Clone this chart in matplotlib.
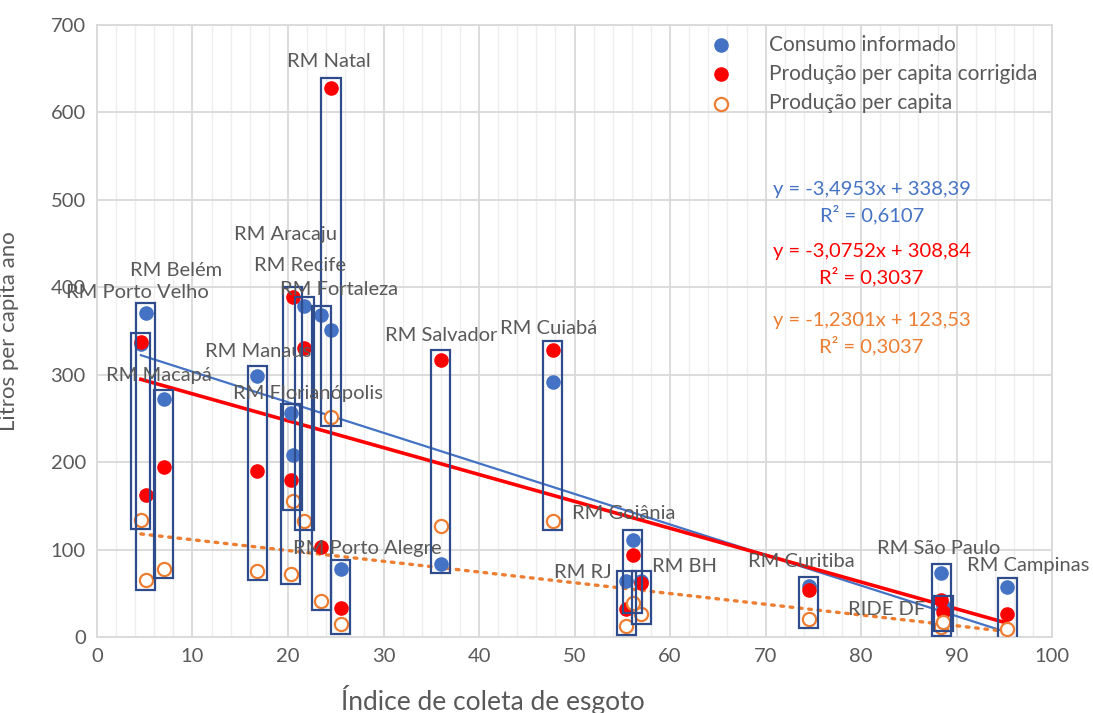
import numpy as np
import matplotlib
matplotlib.use("Agg")
import matplotlib.pyplot as plt
from matplotlib.patches import Rectangle
from matplotlib.ticker import MultipleLocator

plt.rcParams['font.family'] = ['Lato', 'DejaVu Sans']

# regiões metropolitanas: índice de coleta (x) e litros per capita ano (y)
cidades = ["RM Porto Velho", "RM Belém", "RM Macapá", "RM Manaus", "RM Aracaju",
           "RM Florianópolis", "RM Recife", "RM Fortaleza", "RM Natal", "RM Porto Alegre",
           "RM Salvador", "RM Cuiabá", "RM Goiânia", "RM RJ", "RM BH",
           "RM Curitiba", "RM São Paulo", "RIDE DF", "RM Campinas"]
coleta = [4.6, 5.1, 7.0, 16.8, 20.5, 20.3, 21.7, 23.5, 24.5, 25.5,
          36.0, 47.7, 56.1, 55.4, 57.0, 74.5, 88.4, 88.6, 95.3]
consumo = [335, 371, 272, 299, 208, 256, 378, 368, 351, 77.5,
           84, 292, 111, 64, 64, 58, 73, 36, 57]
prod_corrigida = [337, 162, 194, 190, 389, 179, 330, 103, 628, 33,
                  317, 328, 94, 31.6, 62, 54, 42, 29, 26]
prod = [134, 65, 78, 76, 156, 72, 133, 41.5, 252, 14.5,
        127, 133, 38.5, 13, 26, 21, 12, 17.5, 9]

# linhas de tendência (coeficientes a, b de y = a*x + b)
tend_consumo = (-3.4953, 338.39, "y = -3,4953x + 338,39", "R² = 0,6107")
tend_corrigida = (-3.0752, 308.84, "y = -3,0752x + 308,84", "R² = 0,3037")
tend_prod = (-1.2301, 123.53, "y = -1,2301x + 123,53", "R² = 0,3037")

# posição dos rótulos das cidades
rotulo_xy = [(4.2, 394), (8.3, 419), (6.5, 299), (16.9, 326), (19.7, 460),
             (22.1, 279), (21.3, 425), (25.3, 398), (24.3, 658), (28.3, 101),
             (36.0, 345), (47.3, 353), (55.1, 141), (50.9, 74), (61.5, 81),
             (73.7, 86), (88.1, 101), (82.7, 32), (97.5, 82)]

AZUL = "#4472C4"
VERMELHO = "#FF0000"
LARANJA = "#ED7D31"
CINZA = "#595959"
MOLDURA = "#2E4C8C"

fig = plt.figure(figsize=(10.93, 7.13), dpi=100)
ax = fig.add_axes([0.0887, 0.1066, 0.874, 0.8584])

ax.set_xlim(0, 100)
ax.set_ylim(0, 700)
ax.xaxis.set_major_locator(MultipleLocator(10))
ax.xaxis.set_minor_locator(MultipleLocator(2))
ax.yaxis.set_major_locator(MultipleLocator(100))
ax.grid(which="major", color="#D9D9D9", lw=1.3)
ax.grid(which="minor", axis="x", color="#EEEEEE", lw=1.0)
ax.set_axisbelow(True)
for s in ax.spines.values():
    s.set_color("#D9D9D9")
    s.set_linewidth(1.3)
ax.tick_params(which="both", length=0, labelsize=14.5, labelcolor=CINZA, pad=8)

ms = 90
h1 = ax.scatter(coleta, consumo, s=ms, color=AZUL, zorder=3, label="Consumo informado")
h2 = ax.scatter(coleta, prod_corrigida, s=ms, color=VERMELHO, zorder=4,
                label="Produção per capita corrigida")
h3 = ax.scatter(coleta, prod, s=ms, facecolor="white", edgecolor=LARANJA, lw=1.6,
                zorder=5, label="Produção per capita")

xs = np.array([min(coleta), max(coleta)])
ax.plot(xs, tend_consumo[0] * xs + tend_consumo[1], color=AZUL, lw=1.6, zorder=2)
ax.plot(xs, tend_corrigida[0] * xs + tend_corrigida[1], color=VERMELHO, lw=2.6, zorder=2)
ax.plot(xs, tend_prod[0] * xs + tend_prod[1], color=LARANJA, lw=2.4,
        linestyle=(0, (0.8, 2.0)), dash_capstyle="round", zorder=2)

# molduras em volta de cada cidade
for x, a, b, c in zip(coleta, consumo, prod_corrigida, prod):
    lo = min(a, b, c) - 11
    hi = max(a, b, c) + 11
    ax.add_patch(Rectangle((x - 1.0, lo), 2.0, hi - lo, fill=False,
                           edgecolor=MOLDURA, lw=1.6, zorder=6))

for nome, (tx, ty) in zip(cidades, rotulo_xy):
    ax.text(tx, ty, nome, ha="center", va="center", fontsize=14.5, color=CINZA, zorder=7)

for (a, b, eq, r2), cor, y0 in zip([tend_consumo, tend_corrigida, tend_prod],
                                   [AZUL, VERMELHO, LARANJA], [512, 441, 362]):
    ax.text(81.1, y0, eq, ha="center", va="center", fontsize=14.5, color=cor)
    ax.text(81.1, y0 - 29, r2, ha="center", va="center", fontsize=14.5, color=cor)

ax.legend(handles=[h1, h2, h3], loc="upper left", bbox_to_anchor=(0.612, 1.015),
          frameon=False, fontsize=15, labelcolor=CINZA, handletextpad=1.3,
          labelspacing=0.45, scatterpoints=1)

ax.set_ylabel("Litros per capita ano", fontsize=16, color=CINZA)
ax.yaxis.set_label_coords(-0.082, 0.5)
ax.set_xlabel("Índice de coleta de esgoto", fontsize=19, color=CINZA, va="center")
ax.xaxis.set_label_coords(0.414, -0.103)

fig.savefig("out.png", dpi=100)
